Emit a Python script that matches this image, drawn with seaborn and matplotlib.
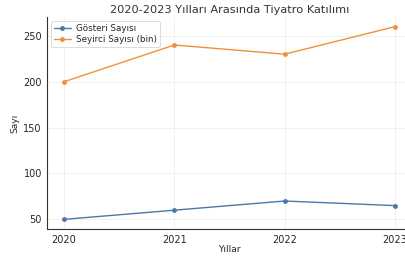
import seaborn as sns
import matplotlib.pyplot as plt
import pandas as pd

years = [2020, 2021, 2022, 2023]
gosteri = [50, 60, 70, 65]
seyirci = [200, 240, 230, 260]
series_names = ['Gösteri Sayısı', 'Seyirci Sayısı (bin)']

df = pd.DataFrame({
    'Yıl': years * 2,
    'Değer': gosteri + seyirci,
    'Seri': [series_names[0]] * 4 + [series_names[1]] * 4,
})

sns.set_style('whitegrid')
plt.rcParams['font.family'] = ['DejaVu Sans']

fig = plt.figure(figsize=(4.06, 2.57), dpi=100)
ax = fig.add_axes([47.5 / 406, 1 - 229 / 257, 364 / 406, 212 / 257])

sns.lineplot(data=df, x='Yıl', y='Değer', hue='Seri', marker='o',
             palette=['#4c78a8', '#f0913a'], markersize=3.5, linewidth=1,
             markeredgewidth=0, ax=ax)

ax.set_title('2020-2023 Yılları Arasında Tiyatro Katılımı', fontsize=8.2, color='#333333', pad=3)
ax.set_xlabel('Yıllar', fontsize=6.5, labelpad=0)
ax.set_ylabel('Sayı', fontsize=6.5, labelpad=3)
ax.set_xticks(years)
ax.tick_params(axis='both', labelsize=7, pad=2, length=2, color='#333333', width=0.6)
ax.grid(color='#eeeeee', linewidth=0.6)
for s in ['top', 'right']:
    ax.spines[s].set_visible(False)
for s in ['left', 'bottom']:
    ax.spines[s].set_color('#333333')
    ax.spines[s].set_linewidth(0.8)

leg = ax.legend(loc='upper left', fontsize=6.3, frameon=True, borderpad=0.35,
                handlelength=1.9, handletextpad=0.6, labelspacing=0.25,
                borderaxespad=0.4)
leg.get_frame().set_edgecolor('#cccccc')
leg.get_frame().set_linewidth(0.6)

fig.savefig('out.png', dpi=100)
